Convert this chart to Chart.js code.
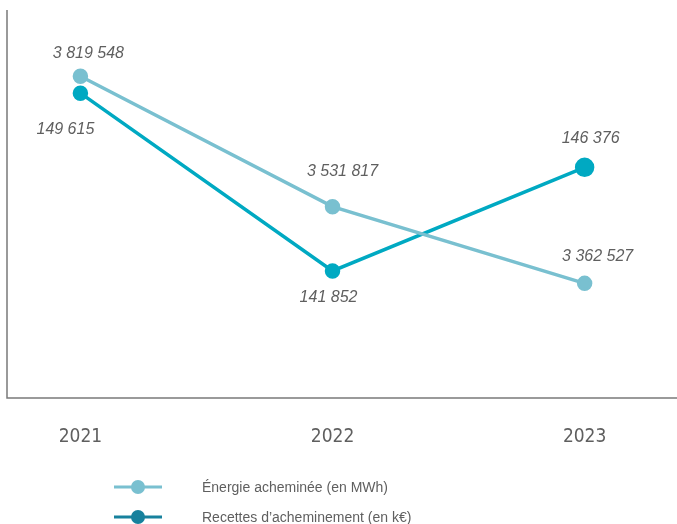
<!DOCTYPE html>
<html>
<head>
<meta charset="utf-8">
<script src="https://cdn.jsdelivr.net/npm/chart.js@4/dist/chart.umd.min.js"></script>
<style>
  html, body { margin: 0; padding: 0; background: #fff; }
  #wrap { width: 677px; height: 524px; position: relative; }
</style>
</head>
<body>
<div id="wrap"><canvas id="chart" width="677" height="524"></canvas></div>
<script>
// data
const years = [2021, 2022, 2023];
const energie = [3819548, 3531817, 3362527];   // MWh
const recettes = [149615, 141852, 146376];     // k€
const seriesNames = ["Énergie acheminée (en MWh)", "Recettes d’acheminement (en k€)"];

const colEnergie = "#79c0d0";
const colRecettes = "#00a9c2";
const colRecettesLegend = "#17819d";
const labelColor = "#5f5f5f";

// where each value label sits relative to its point
const labelOffsets = [
  [[8, -23], [10, -35], [13, -27]],
  [[-15, 36], [-4, 27], [6, -29]]
];

function fmt(v) {
  return String(v).replace(/\B(?=(\d{3})+(?!\d))/g, " ");
}

const valueLabels = {
  id: "valueLabels",
  afterDatasetsDraw(chart) {
    const ctx = chart.ctx;
    ctx.save();
    ctx.font = "italic 16px 'Liberation Sans', Arial, sans-serif";
    ctx.fillStyle = labelColor;
    ctx.textAlign = "center";
    ctx.textBaseline = "middle";
    chart.data.datasets.forEach((ds, i) => {
      chart.getDatasetMeta(i).data.forEach((pt, j) => {
        const off = labelOffsets[i][j];
        ctx.fillText(fmt(ds.data[j].y), pt.x + off[0], pt.y + off[1]);
      });
    });
    ctx.restore();
  }
};

// axis frame: left edge sits a few px outside the area reserved for point overflow
const axisLines = {
  id: "axisLines",
  afterDraw(chart) {
    const { ctx, chartArea } = chart;
    ctx.save();
    ctx.strokeStyle = "#7a7a7a";
    ctx.lineWidth = 1.5;
    ctx.beginPath();
    ctx.moveTo(7, 10);
    ctx.lineTo(7, chartArea.bottom);
    ctx.lineTo(677, chartArea.bottom);
    ctx.stroke();
    ctx.restore();
  }
};

const customLegend = {
  id: "customLegend",
  afterDraw(chart) {
    const ctx = chart.ctx;
    const cols = [colEnergie, colRecettesLegend];
    ctx.save();
    seriesNames.forEach((name, i) => {
      const y = 487 + i * 30;
      ctx.strokeStyle = cols[i];
      ctx.lineWidth = 3;
      ctx.beginPath();
      ctx.moveTo(114, y);
      ctx.lineTo(162, y);
      ctx.stroke();
      ctx.fillStyle = cols[i];
      ctx.beginPath();
      ctx.arc(138, y, 7, 0, Math.PI * 2);
      ctx.fill();
      ctx.fillStyle = labelColor;
      ctx.font = "14px 'Liberation Sans', Arial, sans-serif";
      ctx.textAlign = "left";
      ctx.textBaseline = "middle";
      ctx.fillText(name, 202, y + 1);
    });
    ctx.restore();
  }
};

new Chart(document.getElementById("chart"), {
  type: "line",
  data: {
    datasets: [
      {
        label: seriesNames[0],
        data: years.map((y, i) => ({ x: y, y: energie[i] })),
        yAxisID: "yE",
        borderColor: colEnergie,
        backgroundColor: colEnergie,
        borderWidth: 3.5,
        pointRadius: 6,
        pointHoverRadius: 6,
        tension: 0
      },
      {
        label: seriesNames[1],
        data: years.map((y, i) => ({ x: y, y: recettes[i] })),
        yAxisID: "yR",
        borderColor: colRecettes,
        backgroundColor: colRecettes,
        borderWidth: 3.5,
        pointRadius: [6, 6, 8],
        pointHoverRadius: [6, 6, 8],
        tension: 0
      }
    ]
  },
  options: {
    responsive: false,
    animation: false,
    layout: { padding: { top: 10, left: 7, right: 0, bottom: 0 } },
    plugins: { legend: { display: false }, tooltip: { enabled: false } },
    scales: {
      x: {
        type: "linear",
        min: 2020.7267,
        max: 2023.3208,
        afterBuildTicks: axis => { axis.ticks = years.map(v => ({ value: v })); },
        grid: { display: false },
        border: { display: false },
        ticks: {
          color: labelColor,
          font: { family: "'DejaVu Sans Condensed', 'Liberation Sans', sans-serif", size: 19 },
          padding: 20,
          callback: v => String(v)
        },
        afterFit: axis => { axis.height = 126; }
      },
      yE: {
        position: "left",
        display: false,
        min: 3109594,
        max: 3962418
      },
      yR: {
        position: "right",
        display: false,
        min: 136304,
        max: 153182
      }
    }
  },
  plugins: [valueLabels, axisLines, customLegend]
});
</script>
</body>
</html>
